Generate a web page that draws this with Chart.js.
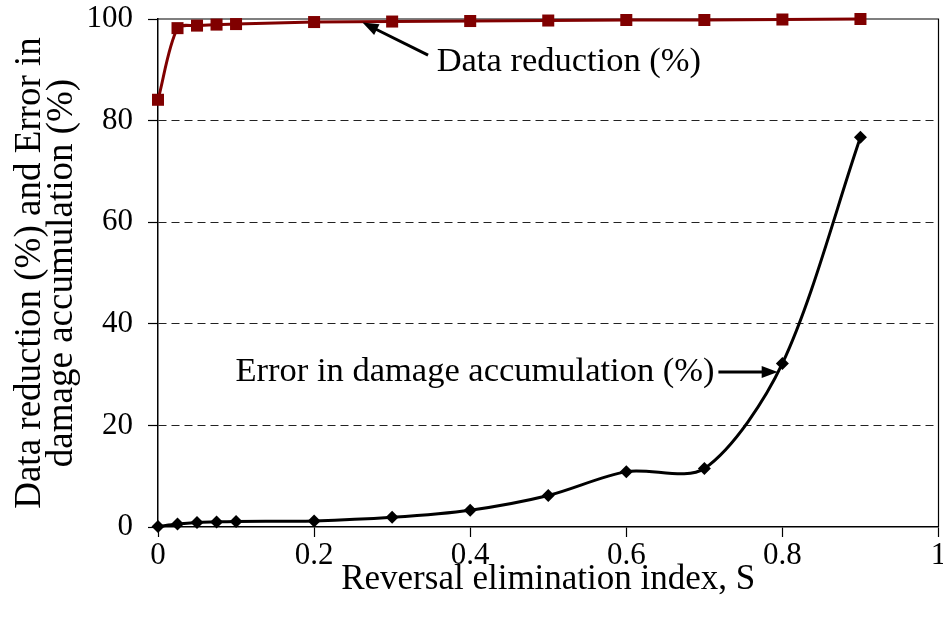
<!DOCTYPE html>
<html>
<head>
<meta charset="utf-8">
<script src="https://cdn.jsdelivr.net/npm/chart.js@4/dist/chart.umd.min.js"></script>
<style>
  html, body { margin: 0; padding: 0; background: #fff; overflow: hidden; }
  #wrap { width: 943px; height: 624px; overflow: hidden; }
</style>
</head>
<body>
<div id="wrap"><canvas id="myChart" width="947" height="624"></canvas></div>
<script>
// values
var sIndex = [0, 0.025, 0.05, 0.075, 0.1, 0.2, 0.3, 0.4, 0.5, 0.6, 0.7, 0.8, 0.9];
var dataReduction = [84.1, 98.2, 98.7, 98.9, 99.0, 99.4, 99.5, 99.6, 99.7, 99.8, 99.8, 99.9, 100];
var damageError = [0.1, 0.6, 0.9, 1.0, 1.1, 1.2, 1.9, 3.3, 6.2, 10.9, 11.5, 32.2, 76.7];
var xTicks = [0, 0.2, 0.4, 0.6, 0.8, 1];
var yTicks = [0, 20, 40, 60, 80, 100];

var serif = "'Liberation Serif', 'Times New Roman', serif";

function toPoints(xs, ys) {
    var pts = [];
    for (var i = 0; i < xs.length; i++) pts.push({x: xs[i], y: ys[i]});
    return pts;
}

function arrow(ctx, x1, y1, x2, y2) {
    var a = Math.atan2(y2 - y1, x2 - x1);
    var head = 16, w = 6;
    ctx.beginPath();
    ctx.moveTo(x1, y1);
    ctx.lineTo(x2 - Math.cos(a) * head * 0.8, y2 - Math.sin(a) * head * 0.8);
    ctx.stroke();
    ctx.beginPath();
    ctx.moveTo(x2, y2);
    ctx.lineTo(x2 - Math.cos(a) * head - Math.sin(a) * w, y2 - Math.sin(a) * head + Math.cos(a) * w);
    ctx.lineTo(x2 - Math.cos(a) * head + Math.sin(a) * w, y2 - Math.sin(a) * head - Math.cos(a) * w);
    ctx.closePath();
    ctx.fill();
}

var framePlugin = {
    id: 'frame',
    beforeDatasetsDraw: function (chart) {
        var a = chart.chartArea, ctx = chart.ctx;
        ctx.save();
        ctx.strokeStyle = '#000';
        ctx.lineWidth = 1.2;
        ctx.beginPath();
        ctx.moveTo(a.left, a.top);
        ctx.lineTo(a.right, a.top);
        ctx.lineTo(a.right, a.bottom);
        ctx.stroke();
        ctx.restore();
    },
    afterDatasetsDraw: function (chart) {
        var xs = chart.scales.x, ys = chart.scales.y, ctx = chart.ctx;
        ctx.save();
        ctx.fillStyle = '#000';
        ctx.strokeStyle = '#000';
        ctx.lineWidth = 3;
        ctx.font = '34.5px ' + serif;
        ctx.textBaseline = 'middle';
        // Data reduction label
        arrow(ctx, xs.getPixelForValue(0.346), ys.getPixelForValue(92.9),
                   xs.getPixelForValue(0.262), ys.getPixelForValue(99.3));
        ctx.textAlign = 'left';
        ctx.fillText('Data reduction (%)', xs.getPixelForValue(0.357), ys.getPixelForValue(91.6));
        // Error label
        arrow(ctx, xs.getPixelForValue(0.718), ys.getPixelForValue(30.5),
                   xs.getPixelForValue(0.794), ys.getPixelForValue(30.5));
        ctx.textAlign = 'right';
        ctx.fillText('Error in damage accumulation (%)', xs.getPixelForValue(0.713), ys.getPixelForValue(30.5));
        ctx.restore();
    }
};

var ctx = document.getElementById('myChart').getContext('2d');
var myChart = new Chart(ctx, {
    type: 'line',
    data: {
        datasets: [{
            label: 'Data reduction (%)',
            data: toPoints(sIndex, dataReduction),
            borderColor: '#800000',
            backgroundColor: '#800000',
            borderWidth: 3,
            pointStyle: 'rect',
            pointRadius: 8.5,
            pointBorderWidth: 0,
            tension: 0.3,
            clip: false
        }, {
            label: 'Error in damage accumulation (%)',
            data: toPoints(sIndex, damageError),
            borderColor: '#000',
            backgroundColor: '#000',
            borderWidth: 3,
            pointStyle: 'rectRot',
            pointRadius: 6.5,
            pointBorderWidth: 0,
            tension: 0.3,
            clip: false
        }]
    },
    options: {
        responsive: false,
        animation: false,
        layout: { padding: { top: 19, right: 1, left: 0, bottom: 0 } },
        plugins: {
            legend: { display: false },
            tooltip: { enabled: false }
        },
        scales: {
            x: {
                type: 'linear',
                min: 0,
                max: 1,
                afterBuildTicks: function (scale) {
                    scale.ticks = xTicks.map(function (v) { return {value: v}; });
                },
                afterFit: function (scale) {
                    scale.height = 97;
                    scale.paddingLeft = 0;
                    scale.paddingRight = 0;
                },
                ticks: {
                    color: '#000',
                    font: { family: serif, size: 31 },
                    padding: 0,
                    maxRotation: 0,
                    callback: function (v) { return String(v); }
                },
                grid: {
                    drawOnChartArea: false,
                    drawTicks: true,
                    tickLength: 10,
                    tickColor: '#000',
                    tickWidth: 1.2
                },
                border: { color: '#000', width: 1.5 },
                title: {
                    display: true,
                    text: 'Reversal elimination index, S',
                    color: '#000',
                    font: { family: serif, size: 35, lineHeight: 1 },
                    padding: { top: 0, bottom: 27 }
                }
            },
            y: {
                min: 0,
                max: 100,
                afterBuildTicks: function (scale) {
                    scale.ticks = yTicks.map(function (v) { return {value: v}; });
                },
                afterFit: function (scale) {
                    scale.width = 158;
                    scale.paddingTop = 0;
                    scale.paddingBottom = 0;
                },
                ticks: {
                    color: '#000',
                    font: { family: serif, size: 31 },
                    padding: 15
                },
                grid: {
                    color: function (c) {
                        var v = c.tick ? c.tick.value : null;
                        return (v === 0 || v === 100) ? 'rgba(0,0,0,0)' : '#222';
                    },
                    lineWidth: 1,
                    tickLength: 10,
                    tickColor: '#000',
                    tickWidth: 1.2,
                    tickBorderDash: []
                },
                border: { color: '#000', width: 1.5, dash: [8, 5] },
                title: {
                    display: true,
                    text: ['Data reduction (%) and Error in', 'damage accumulation (%)'],
                    color: '#000',
                    font: { family: serif, size: 37, lineHeight: 0.865 },
                    padding: { top: 14, bottom: 0 }
                }
            }
        }
    },
    plugins: [framePlugin]
});
</script>
</body>
</html>
